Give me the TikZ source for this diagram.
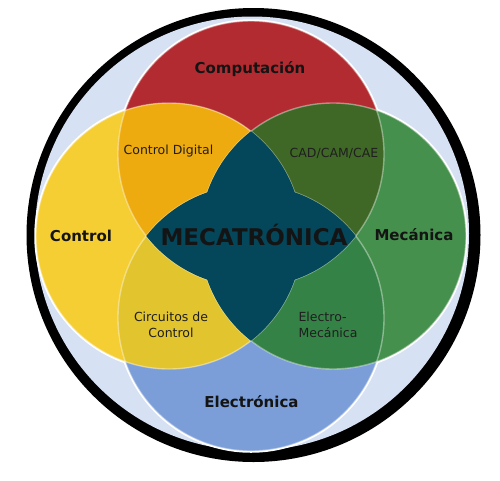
\documentclass[tikz,border=0pt]{standalone}
\usepackage{fontspec}
\setmainfont{DejaVu Sans}
\definecolor{bgblue}{HTML}{D6E1F3}
\definecolor{cred}{HTML}{B22B31}
\definecolor{cyel}{HTML}{F5CE33}
\definecolor{cgrn}{HTML}{45904C}
\definecolor{cblu}{HTML}{7B9ED9}
\definecolor{corg}{HTML}{EEAB10}
\definecolor{cdgr}{HTML}{3F6827}
\definecolor{cmus}{HTML}{E2C42F}
\definecolor{cmgr}{HTML}{358246}
\definecolor{cteal}{HTML}{04465A}
\newcommand\circrad{133pt}
\begin{document}
\begin{tikzpicture}[x=1pt,y=-1pt,
  bigl/.style={font=\bfseries\fontsize{15}{18}\selectfont, text=black!92},
  smalll/.style={font=\fontsize{12.5}{16.5}\selectfont, text=black!88},
  edgew/.style={white, line width=3.5pt},
  edgef/.style={white, opacity=0.4, line width=1.4pt}]
\useasboundingbox (0,0) rectangle (500,480);
% outer ring
\fill[black] (253.5,235) circle[radius=227pt];
\fill[bgblue] (252,233.5) circle[radius=217pt];
% circle centres
\coordinate (cR) at (251,154);
\coordinate (cB) at (251,318);
\coordinate (cY) at (169,236);
\coordinate (cG) at (333,236);
% white outer edges
\foreach \c in {cR,cB,cY,cG} \draw[edgew] (\c) circle[radius=\circrad];
% base circles
\fill[cred] (cR) circle[radius=\circrad];
\fill[cblu] (cB) circle[radius=\circrad];
\fill[cyel] (cY) circle[radius=\circrad];
\fill[cgrn] (cG) circle[radius=\circrad];
% pairwise intersections
\begin{scope}\clip (cY) circle[radius=\circrad]; \fill[corg] (cR) circle[radius=\circrad];\end{scope}
\begin{scope}\clip (cG) circle[radius=\circrad]; \fill[cdgr] (cR) circle[radius=\circrad];\end{scope}
\begin{scope}\clip (cY) circle[radius=\circrad]; \fill[cmus] (cB) circle[radius=\circrad];\end{scope}
\begin{scope}\clip (cG) circle[radius=\circrad]; \fill[cmgr] (cB) circle[radius=\circrad];\end{scope}
% faint inner edges
\foreach \c in {cR,cB,cY,cG} \draw[edgef] (\c) circle[radius=\circrad];
% centre
\begin{scope}\clip (cY) circle[radius=\circrad]; \fill[cteal] (cG) circle[radius=\circrad];\end{scope}
\begin{scope}\clip (cR) circle[radius=\circrad]; \fill[cteal] (cB) circle[radius=\circrad];\end{scope}
% labels
\node[bigl] (tcomp) at (250,69) {Computación};
\node[bigl] (tctrl) at (81,236) {Control};
\node[bigl] (tmec) at (414,235) {Mecánica};
\node[bigl] (telec) at (251.5,402) {Electrónica};
\node[font=\bfseries\fontsize{23}{26}\selectfont, text=black!92] (tmeca) at (254,235) {MECATRÓNICA};
\node[smalll] (tcd) at (168.5,151) {Control Digital};
\node[smalll] (tcad) at (334,153) {CAD/CAM/CAE};
\node[smalll, align=center] (tcc) at (171,325) {Circuitos de\\Control};
\node[smalll, align=left] (tem) at (328,325) {Electro-\\Mecánica};
\end{tikzpicture}
\end{document}
